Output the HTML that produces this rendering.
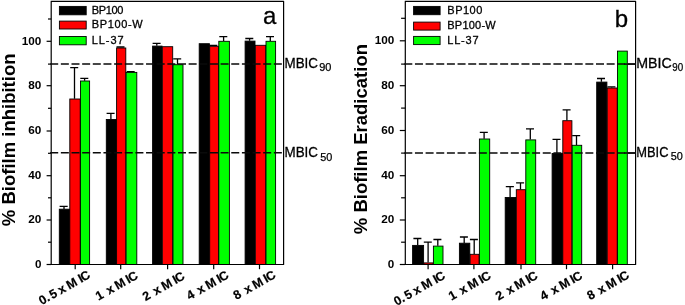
<!DOCTYPE html>
<html><head><meta charset="utf-8"><title>Biofilm inhibition and eradication</title>
<style>html,body{margin:0;padding:0;background:#fff}svg{display:block;will-change:transform}text{font-family:"Liberation Sans", Arial, sans-serif;fill:#000}</style></head><body>
<svg width="685" height="305" viewBox="0 0 685 305">
<rect x="0" y="0" width="685" height="305" fill="#fff"/>
<path d="M64.0 208.9V206.3M59.6 206.3H67.7" stroke="#000" stroke-width="1.3" fill="none"/>
<rect x="59.3" y="209.2" width="10.2" height="55.3" fill="#000000" stroke="#000" stroke-width="0.9"/>
<path d="M74.5 98.7V67.6M70.2 67.6H78.2" stroke="#000" stroke-width="1.3" fill="none"/>
<rect x="69.8" y="99.0" width="10.4" height="165.5" fill="#ff0000" stroke="#000" stroke-width="0.9"/>
<path d="M84.6 80.7V78.4M80.3 78.4H88.3" stroke="#000" stroke-width="1.3" fill="none"/>
<rect x="80.5" y="81.0" width="9.1" height="183.5" fill="#00ff00" stroke="#000" stroke-width="0.9"/>
<path d="M110.9 119.2V113.4M106.6 113.4H114.6" stroke="#000" stroke-width="1.3" fill="none"/>
<rect x="106.3" y="119.5" width="10.0" height="145.0" fill="#000000" stroke="#000" stroke-width="0.9"/>
<path d="M120.8 47.7V47.0M116.5 47.0H124.5" stroke="#000" stroke-width="1.3" fill="none"/>
<rect x="116.6" y="48.0" width="9.2" height="216.5" fill="#ff0000" stroke="#000" stroke-width="0.9"/>
<path d="M131.0 72.1V71.6M126.7 71.6H134.7" stroke="#000" stroke-width="1.3" fill="none"/>
<rect x="126.1" y="72.4" width="10.7" height="192.1" fill="#00ff00" stroke="#000" stroke-width="0.9"/>
<path d="M156.8 45.8V43.4M152.6 43.4H160.6" stroke="#000" stroke-width="1.3" fill="none"/>
<rect x="152.6" y="46.1" width="9.4" height="218.4" fill="#000000" stroke="#000" stroke-width="0.9"/>
<rect x="162.3" y="46.7" width="10.4" height="217.8" fill="#ff0000" stroke="#000" stroke-width="0.9"/>
<path d="M177.5 64.4V58.9M173.2 58.9H181.2" stroke="#000" stroke-width="1.3" fill="none"/>
<rect x="173.0" y="64.7" width="10.0" height="199.8" fill="#00ff00" stroke="#000" stroke-width="0.9"/>
<rect x="199.2" y="43.7" width="10.2" height="220.8" fill="#000000" stroke="#000" stroke-width="0.9"/>
<path d="M213.6 46.0V45.4M209.3 45.4H217.3" stroke="#000" stroke-width="1.3" fill="none"/>
<rect x="209.7" y="46.3" width="8.8" height="218.2" fill="#ff0000" stroke="#000" stroke-width="0.9"/>
<path d="M223.6 41.0V36.6M219.3 36.6H227.3" stroke="#000" stroke-width="1.3" fill="none"/>
<rect x="218.8" y="41.3" width="10.6" height="223.2" fill="#00ff00" stroke="#000" stroke-width="0.9"/>
<path d="M249.6 40.8V38.5M245.3 38.5H253.3" stroke="#000" stroke-width="1.3" fill="none"/>
<rect x="245.1" y="41.1" width="9.9" height="223.4" fill="#000000" stroke="#000" stroke-width="0.9"/>
<rect x="255.3" y="45.3" width="10.4" height="219.2" fill="#ff0000" stroke="#000" stroke-width="0.9"/>
<path d="M270.3 41.0V36.6M266.0 36.6H274.0" stroke="#000" stroke-width="1.3" fill="none"/>
<rect x="266.0" y="41.3" width="9.6" height="223.2" fill="#00ff00" stroke="#000" stroke-width="0.9"/>
<path d="M51.2 1.3V264.5H283.6V1.3H50.7" stroke="#000" stroke-width="1.2" fill="none" stroke-linejoin="round"/>
<path d="M46.6 264.5H51.2" stroke="#000" stroke-width="1.2"/>
<text x="41.4" y="267.8" font-size="11.3" font-weight="bold" text-anchor="end" textLength="6.5" lengthAdjust="spacingAndGlyphs">0</text>
<path d="M48.0 242.2H51.2" stroke="#000" stroke-width="1.2"/>
<path d="M46.6 220.0H51.2" stroke="#000" stroke-width="1.2"/>
<text x="41.4" y="223.3" font-size="11.3" font-weight="bold" text-anchor="end" textLength="13.1" lengthAdjust="spacingAndGlyphs">20</text>
<path d="M48.0 197.8H51.2" stroke="#000" stroke-width="1.2"/>
<path d="M46.6 175.7H51.2" stroke="#000" stroke-width="1.2"/>
<text x="41.4" y="179.0" font-size="11.3" font-weight="bold" text-anchor="end" textLength="13.1" lengthAdjust="spacingAndGlyphs">40</text>
<path d="M48.0 153.3H51.2" stroke="#000" stroke-width="1.2"/>
<path d="M46.6 131.0H51.2" stroke="#000" stroke-width="1.2"/>
<text x="41.4" y="134.3" font-size="11.3" font-weight="bold" text-anchor="end" textLength="13.1" lengthAdjust="spacingAndGlyphs">60</text>
<path d="M48.0 108.3H51.2" stroke="#000" stroke-width="1.2"/>
<path d="M46.6 85.7H51.2" stroke="#000" stroke-width="1.2"/>
<text x="41.4" y="89.0" font-size="11.3" font-weight="bold" text-anchor="end" textLength="13.1" lengthAdjust="spacingAndGlyphs">80</text>
<path d="M48.0 64.1H51.2" stroke="#000" stroke-width="1.2"/>
<path d="M46.6 41.3H51.2" stroke="#000" stroke-width="1.2"/>
<text x="41.4" y="44.6" font-size="11.3" font-weight="bold" text-anchor="end" textLength="19.6" lengthAdjust="spacingAndGlyphs">100</text>
<path d="M48.0 19.0H51.2" stroke="#000" stroke-width="1.2"/>
<path d="M75.2 264.5V269.2" stroke="#000" stroke-width="1.2"/>
<text transform="translate(91.2 277.3) rotate(-29.5)" dx="0 0 1.7 0 -0.6 0 -0.7 3.0 -0.8" font-size="12.5" font-weight="bold" text-anchor="end" stroke="#000" stroke-width="0.2">0.5 x MIC</text>
<path d="M120.7 264.5V269.2" stroke="#000" stroke-width="1.2"/>
<text transform="translate(138.8 278.0) rotate(-29.5)" dx="0 0 1.6 0 -0.8 2.4 -0.8" font-size="12.5" font-weight="bold" text-anchor="end" stroke="#000" stroke-width="0.2">1 x MIC</text>
<path d="M167.6 264.5V269.2" stroke="#000" stroke-width="1.2"/>
<text transform="translate(185.6 278.6) rotate(-29.5)" dx="0 0 1.6 0 -0.8 2.4 -0.8" font-size="12.5" font-weight="bold" text-anchor="end" stroke="#000" stroke-width="0.2">2 x MIC</text>
<path d="M213.7 264.5V269.2" stroke="#000" stroke-width="1.2"/>
<text transform="translate(229.6 277.6) rotate(-29.5)" dx="0 0 1.6 0 -0.8 2.4 -0.8" font-size="12.5" font-weight="bold" text-anchor="end" stroke="#000" stroke-width="0.2">4 x MIC</text>
<path d="M259.5 264.5V269.2" stroke="#000" stroke-width="1.2"/>
<text transform="translate(276.5 277.3) rotate(-29.5)" dx="0 0 1.6 0 -0.8 2.4 -0.8" font-size="12.5" font-weight="bold" text-anchor="end" stroke="#000" stroke-width="0.2">8 x MIC</text>
<path d="M50.2 64.1H283.6" stroke="#0a0a0a" stroke-width="1.5" stroke-dasharray="8 2.65"/>
<text x="284.5" y="68.0" font-size="14.4" textLength="33.5" lengthAdjust="spacingAndGlyphs" stroke="#000" stroke-width="0.3">MBIC</text>
<text x="319.2" y="71.4" font-size="10.8" textLength="12.2" lengthAdjust="spacingAndGlyphs" stroke="#000" stroke-width="0.25">90</text>
<path d="M50.2 152.8H283.6" stroke="#0a0a0a" stroke-width="1.5" stroke-dasharray="8 2.65"/>
<text x="284.5" y="156.7" font-size="14.4" textLength="33.5" lengthAdjust="spacingAndGlyphs" stroke="#000" stroke-width="0.3">MBIC</text>
<text x="320.2" y="160.7" font-size="11.6" textLength="12.1" lengthAdjust="spacingAndGlyphs" stroke="#000" stroke-width="0.25">50</text>
<rect x="59.4" y="6.4" width="26.8" height="8.4" fill="#000000" stroke="#000" stroke-width="0.9"/>
<text x="91.7" y="13.8" font-size="11" textLength="31.6" lengthAdjust="spacing" stroke="#000" stroke-width="0.3">BP100</text>
<rect x="59.4" y="21.1" width="26.8" height="7.9" fill="#ff0000" stroke="#000" stroke-width="0.9"/>
<text x="91.7" y="28.4" font-size="11" textLength="50.9" lengthAdjust="spacing" stroke="#000" stroke-width="0.3">BP100-W</text>
<rect x="59.4" y="36.5" width="26.8" height="8.3" fill="#00ff00" stroke="#000" stroke-width="0.9"/>
<text x="91.7" y="43.8" font-size="11" textLength="32.0" lengthAdjust="spacing" stroke="#000" stroke-width="0.3">LL-37</text>
<text x="269.6" y="23.6" font-size="24" text-anchor="middle" stroke="#000" stroke-width="0.3">a</text>
<text transform="translate(15.4 139.8) rotate(-90)" font-size="18.5" font-weight="bold" text-anchor="middle">% Biofilm inhibition</text>
<path d="M417.7 245.1V238.5M413.4 238.5H421.4" stroke="#000" stroke-width="1.3" fill="none"/>
<rect x="412.6" y="245.4" width="11.0" height="19.1" fill="#000000" stroke="#000" stroke-width="0.9"/>
<path d="M428.1 262.6V242.1M423.8 242.1H431.8" stroke="#000" stroke-width="1.3" fill="none"/>
<rect x="423.9" y="262.9" width="9.2" height="1.6" fill="#ff0000" stroke="#000" stroke-width="0.9"/>
<path d="M437.8 245.8V239.5M433.4 239.5H441.4" stroke="#000" stroke-width="1.3" fill="none"/>
<rect x="433.4" y="246.1" width="9.6" height="18.4" fill="#00ff00" stroke="#000" stroke-width="0.9"/>
<path d="M464.2 242.9V237.0M459.9 237.0H467.9" stroke="#000" stroke-width="1.3" fill="none"/>
<rect x="459.4" y="243.2" width="10.4" height="21.3" fill="#000000" stroke="#000" stroke-width="0.9"/>
<path d="M474.2 254.0V239.5M469.9 239.5H477.9" stroke="#000" stroke-width="1.3" fill="none"/>
<rect x="470.1" y="254.3" width="9.0" height="10.2" fill="#ff0000" stroke="#000" stroke-width="0.9"/>
<path d="M484.1 138.7V132.3M479.8 132.3H487.8" stroke="#000" stroke-width="1.3" fill="none"/>
<rect x="479.4" y="139.0" width="10.3" height="125.5" fill="#00ff00" stroke="#000" stroke-width="0.9"/>
<path d="M510.1 197.2V186.7M505.8 186.7H513.9" stroke="#000" stroke-width="1.3" fill="none"/>
<rect x="505.2" y="197.5" width="10.8" height="67.0" fill="#000000" stroke="#000" stroke-width="0.9"/>
<path d="M520.5 189.4V182.9M516.1 182.9H524.1" stroke="#000" stroke-width="1.3" fill="none"/>
<rect x="516.3" y="189.7" width="9.2" height="74.8" fill="#ff0000" stroke="#000" stroke-width="0.9"/>
<path d="M530.3 139.6V128.8M526.0 128.8H534.0" stroke="#000" stroke-width="1.3" fill="none"/>
<rect x="525.8" y="139.9" width="9.9" height="124.6" fill="#00ff00" stroke="#000" stroke-width="0.9"/>
<path d="M556.9 153.2V139.3M552.5 139.3H560.5" stroke="#000" stroke-width="1.3" fill="none"/>
<rect x="552.1" y="153.5" width="10.4" height="111.0" fill="#000000" stroke="#000" stroke-width="0.9"/>
<path d="M566.9 120.4V109.9M562.6 109.9H570.6" stroke="#000" stroke-width="1.3" fill="none"/>
<rect x="562.8" y="120.7" width="9.1" height="143.8" fill="#ff0000" stroke="#000" stroke-width="0.9"/>
<path d="M576.5 145.0V135.7M572.2 135.7H580.2" stroke="#000" stroke-width="1.3" fill="none"/>
<rect x="572.2" y="145.3" width="9.5" height="119.2" fill="#00ff00" stroke="#000" stroke-width="0.9"/>
<path d="M601.4 81.8V78.5M597.0 78.5H605.0" stroke="#000" stroke-width="1.3" fill="none"/>
<rect x="596.7" y="82.1" width="10.2" height="182.4" fill="#000000" stroke="#000" stroke-width="0.9"/>
<path d="M611.8 87.7V86.9M607.4 86.9H615.4" stroke="#000" stroke-width="1.3" fill="none"/>
<rect x="607.2" y="88.0" width="10.0" height="176.5" fill="#ff0000" stroke="#000" stroke-width="0.9"/>
<rect x="617.5" y="51.1" width="9.8" height="213.4" fill="#00ff00" stroke="#000" stroke-width="0.9"/>
<path d="M405.3 1.3V264.5H635.6V1.3H404.8" stroke="#000" stroke-width="1.2" fill="none" stroke-linejoin="round"/>
<path d="M399.8 264.5H405.3" stroke="#000" stroke-width="1.2"/>
<text x="394.3" y="267.8" font-size="11.3" font-weight="bold" text-anchor="end" textLength="6.5" lengthAdjust="spacingAndGlyphs">0</text>
<path d="M401.1 242.2H405.3" stroke="#000" stroke-width="1.2"/>
<path d="M399.8 220.0H405.3" stroke="#000" stroke-width="1.2"/>
<text x="394.3" y="223.3" font-size="11.3" font-weight="bold" text-anchor="end" textLength="13.1" lengthAdjust="spacingAndGlyphs">20</text>
<path d="M401.1 197.8H405.3" stroke="#000" stroke-width="1.2"/>
<path d="M399.8 175.7H405.3" stroke="#000" stroke-width="1.2"/>
<text x="394.3" y="179.0" font-size="11.3" font-weight="bold" text-anchor="end" textLength="13.1" lengthAdjust="spacingAndGlyphs">40</text>
<path d="M401.1 153.1H405.3" stroke="#000" stroke-width="1.2"/>
<path d="M399.8 130.5H405.3" stroke="#000" stroke-width="1.2"/>
<text x="394.3" y="133.8" font-size="11.3" font-weight="bold" text-anchor="end" textLength="13.1" lengthAdjust="spacingAndGlyphs">60</text>
<path d="M401.1 108.1H405.3" stroke="#000" stroke-width="1.2"/>
<path d="M399.8 85.7H405.3" stroke="#000" stroke-width="1.2"/>
<text x="394.3" y="89.0" font-size="11.3" font-weight="bold" text-anchor="end" textLength="13.1" lengthAdjust="spacingAndGlyphs">80</text>
<path d="M401.1 64.1H405.3" stroke="#000" stroke-width="1.2"/>
<path d="M399.8 40.8H405.3" stroke="#000" stroke-width="1.2"/>
<text x="394.3" y="44.1" font-size="11.3" font-weight="bold" text-anchor="end" textLength="19.6" lengthAdjust="spacingAndGlyphs">100</text>
<path d="M401.1 18.3H405.3" stroke="#000" stroke-width="1.2"/>
<path d="M428.1 264.5V269.2" stroke="#000" stroke-width="1.2"/>
<text transform="translate(446.2 278.0) rotate(-29.5)" dx="0 0 1.7 0 -0.6 0 -0.7 3.0 -0.8" font-size="12.5" font-weight="bold" text-anchor="end" stroke="#000" stroke-width="0.2">0.5 x MIC</text>
<path d="M473.9 264.5V269.2" stroke="#000" stroke-width="1.2"/>
<text transform="translate(491.8 278.0) rotate(-29.5)" dx="0 0 1.6 0 -0.8 2.4 -0.8" font-size="12.5" font-weight="bold" text-anchor="end" stroke="#000" stroke-width="0.2">1 x MIC</text>
<path d="M521.0 264.5V269.2" stroke="#000" stroke-width="1.2"/>
<text transform="translate(538.7 278.0) rotate(-29.5)" dx="0 0 1.6 0 -0.8 2.4 -0.8" font-size="12.5" font-weight="bold" text-anchor="end" stroke="#000" stroke-width="0.2">2 x MIC</text>
<path d="M566.5 264.5V269.2" stroke="#000" stroke-width="1.2"/>
<text transform="translate(583.3 278.0) rotate(-29.5)" dx="0 0 1.6 0 -0.8 2.4 -0.8" font-size="12.5" font-weight="bold" text-anchor="end" stroke="#000" stroke-width="0.2">4 x MIC</text>
<path d="M612.6 264.5V269.2" stroke="#000" stroke-width="1.2"/>
<text transform="translate(630.2 277.6) rotate(-29.5)" dx="0 0 1.6 0 -0.8 2.4 -0.8" font-size="12.5" font-weight="bold" text-anchor="end" stroke="#000" stroke-width="0.2">8 x MIC</text>
<path d="M404.3 64.1H635.6" stroke="#0a0a0a" stroke-width="1.5" stroke-dasharray="8 2.65"/>
<path d="M624.0 64.1H635.6" stroke="#0a0a0a" stroke-width="1.5"/>
<text x="636.3" y="68.0" font-size="14.4" textLength="35.5" lengthAdjust="spacingAndGlyphs" stroke="#000" stroke-width="0.3">MBIC</text>
<text x="672.3" y="71.4" font-size="10.8" textLength="10.9" lengthAdjust="spacingAndGlyphs" stroke="#000" stroke-width="0.25">90</text>
<path d="M404.3 153.0H635.6" stroke="#0a0a0a" stroke-width="1.5" stroke-dasharray="8 2.65"/>
<path d="M624.0 153.0H635.6" stroke="#0a0a0a" stroke-width="1.5"/>
<text x="636.3" y="156.7" font-size="14.4" textLength="32.2" lengthAdjust="spacingAndGlyphs" stroke="#000" stroke-width="0.3">MBIC</text>
<text x="670.8" y="160.4" font-size="11.6" textLength="12.1" lengthAdjust="spacingAndGlyphs" stroke="#000" stroke-width="0.25">50</text>
<rect x="413.6" y="6.4" width="26.5" height="8.3" fill="#000000" stroke="#000" stroke-width="0.9"/>
<text x="447.3" y="13.8" font-size="11" textLength="35.0" lengthAdjust="spacing" stroke="#000" stroke-width="0.3">BP100</text>
<rect x="413.6" y="22.1" width="26.5" height="8.0" fill="#ff0000" stroke="#000" stroke-width="0.9"/>
<text x="447.3" y="29.4" font-size="11" textLength="48.4" lengthAdjust="spacing" stroke="#000" stroke-width="0.3">BP100-W</text>
<rect x="413.6" y="36.4" width="26.5" height="8.2" fill="#00ff00" stroke="#000" stroke-width="0.9"/>
<text x="447.3" y="43.7" font-size="11" textLength="31.2" lengthAdjust="spacing" stroke="#000" stroke-width="0.3">LL-37</text>
<text x="621.4" y="27.0" font-size="24" text-anchor="middle" stroke="#000" stroke-width="0.3">b</text>
<text transform="translate(367.1 139.1) rotate(-90)" font-size="18.5" font-weight="bold" text-anchor="middle">% Biofilm Eradication</text>
</svg></body></html>
